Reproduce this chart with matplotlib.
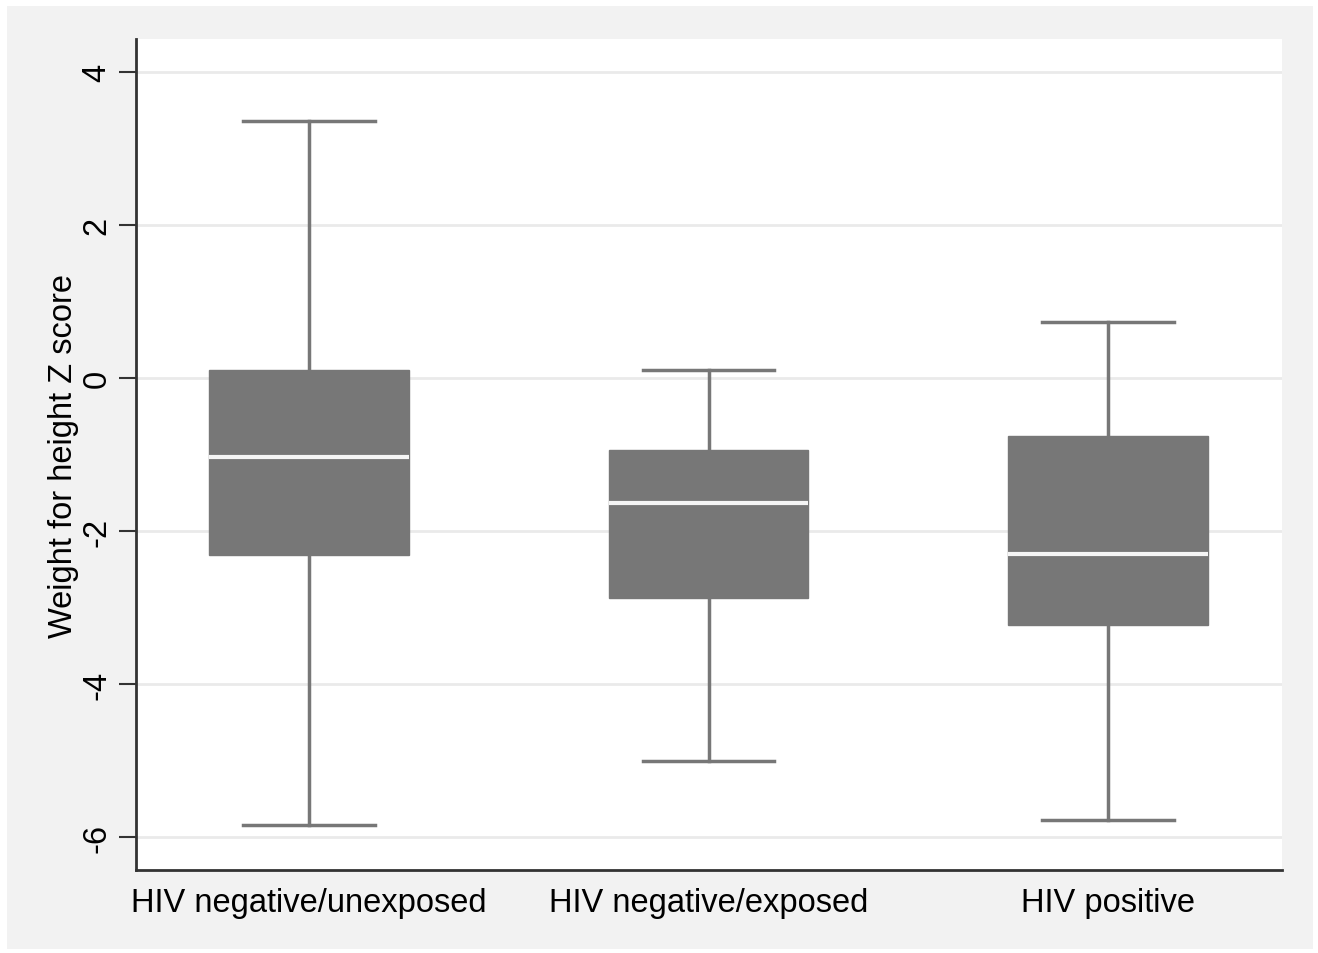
import matplotlib
matplotlib.use("Agg")
import matplotlib.pyplot as plt

# values
groups = ["HIV negative/unexposed", "HIV negative/exposed", "HIV positive"]
whisker_lo = [-5.84, -5.01, -5.78]
q1 = [-2.31, -2.88, -3.23]
median = [-1.03, -1.63, -2.30]
q3 = [0.11, -0.94, -0.76]
whisker_hi = [3.36, 0.10, 0.73]
yticks = [-6, -4, -2, 0, 2, 4]

plt.rcParams['font.family'] = ['Liberation Sans', 'DejaVu Sans']

fig = plt.figure(figsize=(13.18, 9.54), dpi=100)
fig.patch.set_facecolor("white")
# light gray panel behind the plot, like Stata's graph region
bg = fig.add_axes([7 / 1318, 4 / 954, 1 - 12 / 1318, 1 - 11 / 954], zorder=-1)
bg.set_facecolor("#f2f2f2")
bg.set_xticks([])
bg.set_yticks([])
for s in bg.spines.values():
    s.set_visible(False)

ax = fig.add_axes([136 / 1318, 1 - 871 / 954, (1282 - 136) / 1318, (871 - 40) / 954])
ax.set_facecolor("white")

stats = []
for i, g in enumerate(groups):
    stats.append(dict(label=g, whislo=whisker_lo[i], q1=q1[i], med=median[i],
                      q3=q3[i], whishi=whisker_hi[i], fliers=[]))

gray = "#777777"
ax.bxp(stats, positions=[1, 2, 3], widths=0.5, patch_artist=True, showfliers=False,
       boxprops=dict(facecolor=gray, edgecolor=gray, linewidth=1),
       medianprops=dict(color="#f5f5f5", linewidth=3),
       whiskerprops=dict(color=gray, linewidth=2.5),
       capprops=dict(color=gray, linewidth=2.5),
       capwidths=0.33, zorder=3)

ax.set_xlim(0.5675, 3.435)
ax.set_ylim(-6.43, 4.43)
ax.set_yticks(yticks)
ax.set_yticklabels([str(t) for t in yticks], rotation=90, va="center", fontsize=23.5)
ax.grid(axis="y", color="#eaeaea", linewidth=2)
ax.set_axisbelow(True)
ax.tick_params(axis="x", length=0, labelsize=23.5, pad=12)
ax.tick_params(axis="y", length=12, width=1.5, color="#333333", pad=5)
ax.set_xticklabels(groups)
ax.set_ylabel("Weight for height Z score", fontsize=23.5, labelpad=2)

for s in ["top", "right"]:
    ax.spines[s].set_visible(False)
for s in ["left", "bottom"]:
    ax.spines[s].set_color("#333333")
    ax.spines[s].set_linewidth(2)

fig.savefig("out.png", dpi=100, facecolor=fig.get_facecolor())
